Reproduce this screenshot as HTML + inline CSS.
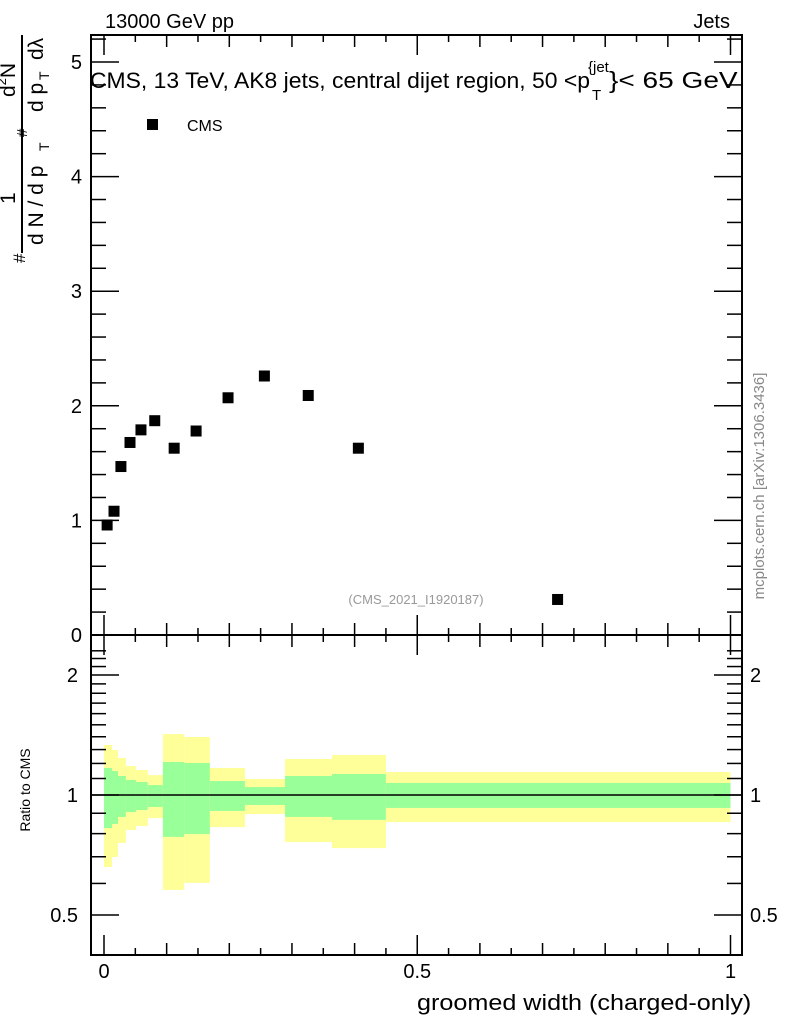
<!DOCTYPE html>
<html><head><meta charset="utf-8"><style>
body{margin:0;background:#fff;}
svg{display:block;font-family:"Liberation Sans",sans-serif;}
</style></head><body>
<svg id="c" width="786" height="1024" xmlns="http://www.w3.org/2000/svg">
<g id="bands"></g>
<g id="marks"></g>
<g id="axes"></g>
<text x="105" y="28" font-size="20">13000 GeV pp</text>
<text x="730" y="28" font-size="20" text-anchor="end">Jets</text>
<g>
<text x="90" y="88" font-size="22" textLength="500" lengthAdjust="spacingAndGlyphs">CMS, 13 TeV, AK8 jets, central dijet region, 50 &lt;p</text>
<text x="588" y="72" font-size="15">{jet</text>
<text x="592" y="100" font-size="15">T</text>
<text transform="translate(609,88) scale(1.22,1)" font-size="23">}&lt; 65 GeV</text>
</g>
<rect x="147" y="119" width="11" height="11" fill="#000"/>
<text x="187" y="131" font-size="16">CMS</text>
<text x="416" y="604" font-size="13" fill="#999" text-anchor="middle">(CMS_2021_I1920187)</text>
<text transform="translate(764,486) rotate(-90)" font-size="15" fill="#888" text-anchor="middle">mcplots.cern.ch [arXiv:1306.3436]</text>
<g transform="translate(45,270) rotate(-90)" font-size="20">
<text x="7" y="-20" font-size="17">#</text>
<text x="66" y="-30" font-size="21">1</text>
<text x="173" y="-30" font-size="21">d<tspan font-size="13" dy="-9">2</tspan><tspan dy="9">N</tspan></text>
<line x1="17" y1="-23" x2="235" y2="-23" stroke="#000" stroke-width="2"/>
<text x="25" y="-2" font-size="21">d N / d p</text>
<text x="119" y="4" font-size="14">T</text>
<text x="133" y="-18" font-size="15">#</text>
<text x="158" y="-2" font-size="21">d p</text>
<text x="190" y="4" font-size="14">T</text>
<text x="210" y="-2" font-size="21">d&#955;</text>
</g>
<text x="30" y="790" font-size="14" text-anchor="middle" transform="rotate(-90 30 790)">Ratio to CMS</text>
<text transform="translate(417,1010) scale(1.145,1)" font-size="22">groomed width (charged-only)</text>
</svg>
<script>
const xs=[0.005,0.016,0.027,0.0415,0.059,0.081,0.112,0.147,0.198,0.256,0.326,0.406,0.724];
const ys=[0.96,1.08,1.47,1.68,1.79,1.87,1.63,1.78,2.07,2.26,2.09,1.63,0.31];
const edges=[0,0.0128,0.0224,0.035,0.051,0.070,0.094,0.128,0.169,0.225,0.289,0.364,0.450,1.0];
const yelUp=[1.335,1.297,1.238,1.182,1.155,1.122,1.422,1.398,1.169,1.097,1.231,1.26,1.142];
const grnUp=[1.169,1.149,1.116,1.091,1.078,1.059,1.21,1.203,1.084,1.047,1.116,1.129,1.072];
const grnDn=[0.826,0.846,0.881,0.906,0.917,0.933,0.785,0.798,0.912,0.944,0.881,0.866,0.928];
const yelDn=[0.66,0.699,0.758,0.817,0.836,0.875,0.578,0.602,0.831,0.896,0.762,0.736,0.855];
const mainTicks=[0,1,2,3,4,5];
const ratioTicks=[0.5,1,2];
const xTicks=[0,0.5,1];
const NS="http://www.w3.org/2000/svg";
const L=91,R=742,T=35,M=635,B=955;
const X=v=>104+v*626.5;
const Y=v=>635-v*114.6;
const YR=v=>795-Math.log2(v)*120;
function mk(tag,attrs,parent){const e=document.createElementNS(NS,tag);for(const k in attrs)e.setAttribute(k,attrs[k]);parent.appendChild(e);return e;}
const bands=document.getElementById('bands'),marks=document.getElementById('marks'),axes=document.getElementById('axes');
for(let i=0;i<yelUp.length;i++){
 const x1=X(edges[i]),x2=X(edges[i+1]);
 const y=mk('rect',{x:x1,y:YR(yelUp[i]),width:x2-x1,height:YR(yelDn[i])-YR(yelUp[i]),fill:'#ffff99'},bands);
 
 
 const g=mk('rect',{x:x1,y:YR(grnUp[i]),width:x2-x1,height:YR(grnDn[i])-YR(grnUp[i]),fill:'#99ff99'},bands);
 
 
}
const ln=mk('line',{x1:L,x2:R,y1:YR(1),y2:YR(1),stroke:'#000','stroke-width':1.5},bands);


for(let i=0;i<xs.length;i++){
 const p=mk('rect',{x:X(xs[i])-5.5,y:Y(ys[i])-5.5,width:11,height:11,fill:'#000'},marks);
 
 
}
const st={stroke:'#000','stroke-width':2,fill:'none'};
mk('rect',Object.assign({x:L,y:T,width:R-L,height:B-T},st),axes);
mk('line',Object.assign({x1:L,x2:R,y1:M,y2:M},st),axes);
for(let k=0;k<=20;k++){const v=k*0.05,x=X(v);const len=k%10==0?20:(k%2==0?12:7);
 [B,M].forEach(yb=>mk('line',{x1:x,x2:x,y1:yb,y2:yb-len,stroke:'#000','stroke-width':1.5},axes));
 [T,M].forEach(yt=>mk('line',{x1:x,x2:x,y1:yt,y2:yt+len,stroke:'#000','stroke-width':1.5},axes));}
xTicks.forEach(v=>{const t=mk('text',{x:X(v),y:978,'font-size':20,'text-anchor':'middle'},axes);t.textContent=String(v);
 
 });
for(let k=0;k<=26;k++){const v=k*0.2,y=Y(v);if(y<T)continue;const len=k%5==0?28:15;
 mk('line',{x1:L,x2:L+len,y1:y,y2:y,stroke:'#000','stroke-width':1.5},axes);
 mk('line',{x1:R,x2:R-len,y1:y,y2:y,stroke:'#000','stroke-width':1.5},axes);}
mainTicks.forEach(v=>{const t=mk('text',{x:82,y:Y(v)+7,'font-size':20,'text-anchor':'end'},axes);t.textContent=String(v);
 
 });
const rt=[0.4,0.5,0.6,0.7,0.8,0.9,1,1.1,1.2,1.3,1.4,1.5,1.6,1.7,1.8,1.9,2,2.1,2.2,2.3];
rt.forEach(v=>{const y=YR(v);if(y<M+2||y>B-2)return;const len=ratioTicks.includes(v)?28:15;
 mk('line',{x1:L,x2:L+len,y1:y,y2:y,stroke:'#000','stroke-width':1.5},axes);
 mk('line',{x1:R,x2:R-len,y1:y,y2:y,stroke:'#000','stroke-width':1.5},axes);});
ratioTicks.forEach(v=>{[[78,'end'],[750,'start']].forEach(([x,a])=>{const t=mk('text',{x:x,y:YR(v)+7,'font-size':20,'text-anchor':a},axes);t.textContent=String(v);
 
 });});
</script>
</body></html>
